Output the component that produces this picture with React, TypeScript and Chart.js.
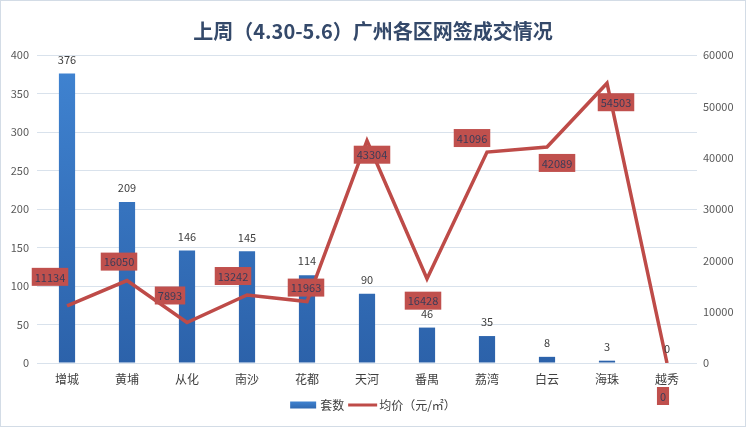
import React, { useEffect, useRef } from "react";
import { Chart, registerables } from "chart.js";

Chart.register(...registerables);

const FONT = '"Noto Sans CJK SC", "Noto Sans", sans-serif';

const districts = ["增城", "黄埔", "从化", "南沙", "花都", "天河", "番禺", "荔湾", "白云", "海珠", "越秀"];
const units = [376, 209, 146, 145, 114, 90, 46, 35, 8, 3, 0];
const avgPrice = [11134, 16050, 7893, 13242, 11963, 43304, 16428, 41096, 42089, 54503, 0];

const titleText = "上周（4.30-5.6）广州各区网签成交情况";
const unitsLabel = "套数";
const priceLabel = "均价（元/㎡）";

// label box placement relative to each line point (style only)
const priceLabelOffsets: [number, number][] = [
  [-17, -29], [-8, -19], [-17, -27], [-14, -19], [-1, -14],
  [5, 14], [-4, 22], [-15, -14], [10, 16], [9, 19], [-4, 33],
];

const labelPlugin = {
  id: "customLabels",
  afterDatasetsDraw(chart: any) {
    const ctx = chart.ctx as CanvasRenderingContext2D;
    const lineMeta = chart.getDatasetMeta(0);
    const barMeta = chart.getDatasetMeta(1);
    ctx.save();
    ctx.font = `11px ${FONT}`;
    ctx.textAlign = "center";
    ctx.textBaseline = "middle";
    barMeta.data.forEach((el: any, i: number) => {
      ctx.fillStyle = "#404040";
      ctx.fillText(String(units[i]), el.x, el.y - 14);
    });
    lineMeta.data.forEach((el: any, i: number) => {
      const [dx, dy] = priceLabelOffsets[i];
      const txt = String(avgPrice[i]);
      const w = ctx.measureText(txt).width + 6;
      const h = 18;
      const cx = el.x + dx;
      const cy = el.y + dy;
      ctx.fillStyle = "#C0504D";
      ctx.fillRect(cx - w / 2, cy - h / 2, w, h);
      ctx.fillStyle = "#3C3C58";
      ctx.fillText(txt, cx, cy + 0.5);
    });
    ctx.restore();
  },
  afterDraw(chart: any) {
    const ctx = chart.ctx as CanvasRenderingContext2D;
    ctx.save();
    ctx.font = `12px ${FONT}`;
    ctx.textBaseline = "middle";
    ctx.textAlign = "left";
    const w1 = ctx.measureText(unitsLabel).width;
    const w2 = ctx.measureText(priceLabel).width;
    const total = 26 + 4 + w1 + 4 + 29 + 2 + w2;
    let x = chart.width / 2 - total / 2;
    const y = 405;
    const g = ctx.createLinearGradient(0, y - 4, 0, y + 4);
    g.addColorStop(0, "#4084D2");
    g.addColorStop(1, "#2E66AE");
    ctx.fillStyle = g;
    ctx.fillRect(x, y - 3.5, 26, 7);
    x += 30;
    ctx.fillStyle = "#404040";
    ctx.fillText(unitsLabel, x, y);
    x += w1 + 4;
    ctx.strokeStyle = "#BE4B48";
    ctx.lineWidth = 3;
    ctx.beginPath();
    ctx.moveTo(x, y);
    ctx.lineTo(x + 29, y);
    ctx.stroke();
    x += 31;
    ctx.fillStyle = "#404040";
    ctx.fillText(priceLabel, x, y);
    // frame
    ctx.strokeStyle = "#D3DCE6";
    ctx.lineWidth = 1;
    ctx.strokeRect(0.5, 0.5, chart.width - 1, chart.height - 1);
    ctx.restore();
  },
};

export default function App() {
  const ref = useRef<HTMLCanvasElement | null>(null);
  useEffect(() => {
    if (!ref.current) return;
    const chart = new Chart(ref.current, {
      data: {
        labels: districts,
        datasets: [
          {
            type: "line",
            label: priceLabel,
            data: avgPrice,
            yAxisID: "y1",
            borderColor: "#BE4B48",
            borderWidth: 3.5,
            pointRadius: 0,
            tension: 0,
            order: 0,
          },
          {
            type: "bar",
            label: unitsLabel,
            data: units,
            yAxisID: "y",
            backgroundColor: (c: any) => {
              const area = c.chart.chartArea;
              if (!area) return "#3A72B8";
              const g = c.chart.ctx.createLinearGradient(0, area.top, 0, area.bottom);
              g.addColorStop(0, "#4084D2");
              g.addColorStop(1, "#2C62AA");
              return g;
            },
            categoryPercentage: 1,
            barPercentage: 0.27,
            order: 1,
          },
        ],
      } as any,
      options: {
        animation: false,
        responsive: false,
        maintainAspectRatio: false,
        layout: { padding: { left: 0, right: 0, top: 0, bottom: 34 } },
        plugins: {
          legend: { display: false },
          tooltip: { enabled: false },
          title: {
            display: true,
            text: titleText,
            color: "#34496A",
            font: { family: FONT, size: 20, weight: "bold" },
            padding: { top: 19, bottom: 12 },
          },
        },
        scales: {
          x: {
            grid: { display: false, drawTicks: false },
            border: { display: false },
            ticks: { color: "#404040", font: { family: FONT, size: 12 }, padding: 9 },
            afterFit: (s: any) => {
              s.height = 30;
            },
          },
          y: {
            position: "left",
            min: 0,
            max: 400,
            ticks: { stepSize: 50, color: "#595959", font: { family: FONT, size: 11 }, padding: 8 },
            grid: { color: "#D9E2EC", drawTicks: false },
            border: { display: false },
            afterFit: (s: any) => {
              s.width = 37;
            },
          },
          y1: {
            position: "right",
            min: 0,
            max: 60000,
            ticks: {
              stepSize: 10000,
              color: "#595959",
              font: { family: FONT, size: 11 },
              padding: 6,
              callback: (v: any) => String(v),
            },
            grid: { display: false, drawTicks: false },
            border: { display: false },
            afterFit: (s: any) => {
              s.width = 49;
            },
          },
        },
      } as any,
      plugins: [labelPlugin],
    });
    return () => chart.destroy();
  }, []);
  return (
    <div style={{ position: "fixed", left: 0, top: 0, width: 746, height: 427, background: "#fff" }}>
      <canvas ref={ref} width={746} height={427} style={{ width: 746, height: 427 }} />
    </div>
  );
}
